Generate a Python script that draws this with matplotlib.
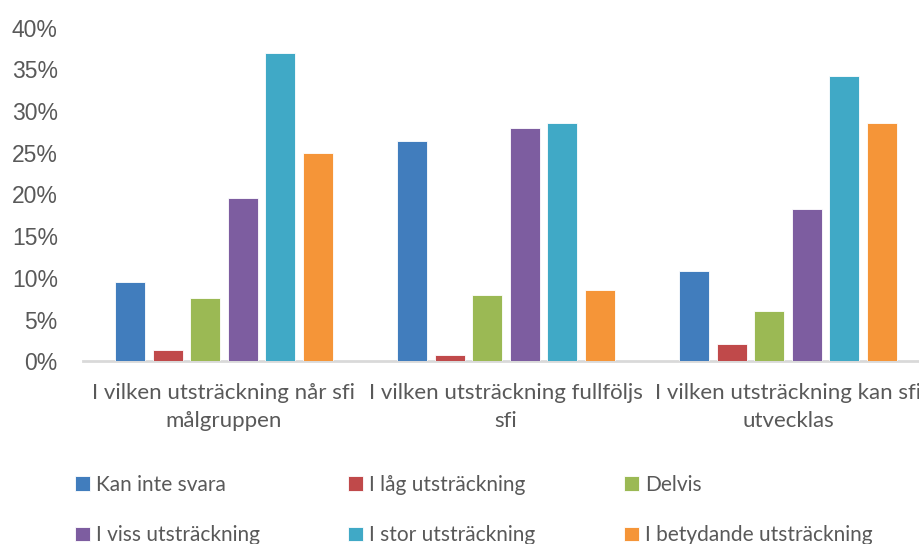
import matplotlib
matplotlib.use('Agg')
import matplotlib.pyplot as plt
import numpy as np

categories = ['I vilken utsträckning når sfi\nmålgruppen',
              'I vilken utsträckning fullföljs\nsfi',
              'I vilken utsträckning kan sfi\nutvecklas']
series = ['Kan inte svara', 'I låg utsträckning', 'Delvis',
          'I viss utsträckning', 'I stor utsträckning', 'I betydande utsträckning']
kan_inte_svara = [9.5, 26.4, 10.8]
lag = [1.4, 0.8, 2.1]
delvis = [7.6, 7.9, 6.0]
viss = [19.6, 28.0, 18.3]
stor = [37.0, 28.6, 34.2]
betydande = [25.0, 8.5, 28.6]
colors = ['#417dbd', '#c0494a', '#9bb954', '#7d5da0', '#40a9c6', '#f59538']

values = [kan_inte_svara, lag, delvis, viss, stor, betydande]

fig = plt.figure(figsize=(9.2, 5.44), dpi=100)
ax = fig.add_axes([0.09, 0.336, 0.92, 0.613])

x = np.arange(len(categories))
step = 0.133
width = 0.106
for i, (name, vals) in enumerate(zip(series, values)):
    ax.bar(x + (i - 2.5) * step, vals, width, color=colors[i], label=name,
           edgecolor='white', linewidth=0.6, zorder=2)

ax.set_xlim(-0.5, 2.5)
ax.set_ylim(0, 40)
ax.set_yticks(range(0, 41, 5))
ax.set_yticklabels([f'{v}%' for v in range(0, 41, 5)],
                   fontsize=16.5, color='#595959', family='Liberation Sans')
ax.set_xticks(x)
ax.set_xticklabels(categories, fontsize=16, color='#595959', family='Lato',
                   linespacing=1.45)
ax.tick_params(axis='y', length=0, pad=18)
ax.tick_params(axis='x', length=0, pad=16)
for s in ['top', 'right', 'left']:
    ax.spines[s].set_visible(False)
ax.spines['bottom'].set_color('#d9d9d9')
ax.spines['bottom'].set_linewidth(2)
ax.spines['bottom'].set_zorder(1)

# legend filled row by row: reorder for matplotlib's column-major fill
handles, labels = ax.get_legend_handles_labels()
order = [0, 3, 1, 4, 2, 5]
leg = fig.legend([handles[k] for k in order], [labels[k] for k in order],
                 ncol=3, loc='upper left', bbox_to_anchor=(75 / 920, 1 - 475 / 544),
                 frameon=False, borderpad=0, borderaxespad=0,
                 handlelength=0.7, handleheight=0.7, handletextpad=0.3,
                 labelspacing=1.45, columnspacing=4.25,
                 prop={'family': 'Lato', 'size': 15})
for t in leg.get_texts():
    t.set_color('#595959')

plt.savefig('out.png', dpi=100)
